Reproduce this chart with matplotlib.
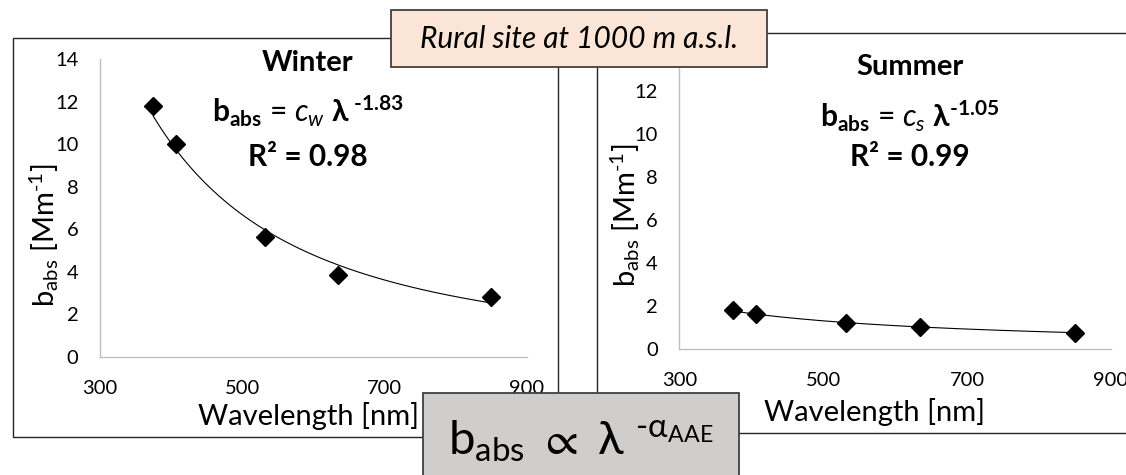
import numpy as np
import matplotlib
matplotlib.use("Agg")
import matplotlib.pyplot as plt
from matplotlib.patches import Rectangle

plt.rcParams['font.family'] = ['Lato', 'DejaVu Sans']
plt.rcParams['mathtext.fontset'] = 'custom'
plt.rcParams['mathtext.rm'] = 'Lato'
plt.rcParams['mathtext.it'] = 'Lato:italic'
plt.rcParams['mathtext.bf'] = 'Lato:bold'
plt.rcParams['mathtext.default'] = 'regular'
plt.rcParams['mathtext.fallback'] = 'stixsans'

# measured absorption coefficients per wavelength
wavelengths = [375, 407, 532, 635, 850]
winter_babs = [11.8, 10.0, 5.65, 3.85, 2.8]
summer_babs = [1.8, 1.6, 1.2, 1.0, 0.72]

winter_aae = 1.83
summer_aae = 1.05
winter_r2 = 0.98
summer_r2 = 0.99

x_ticks = [300, 500, 700, 900]
y_ticks = [0, 2, 4, 6, 8, 10, 12, 14]

W, H = 1126, 475
fig = plt.figure(figsize=(W / 100, H / 100), dpi=100)

HY = '\u2010'  # short hyphen, as in the original labels


def power_fit(x, y, aae):
    # constant of b = c * lambda^-aae, fitted in log space
    x = np.asarray(x, float)
    y = np.asarray(y, float)
    logc = np.mean(np.log(y) + aae * np.log(x))
    xs = np.linspace(x.min(), x.max(), 200)
    return xs, np.exp(logc) * xs ** (-aae)


def panel(rect, y, aae, r2, title, sub, tx, ylab_pos, xlab_pos, title_y, eq_y, r2_y,
          space, yt):
    ax = fig.add_axes(rect)
    ax.patch.set_alpha(0)
    xs, ys = power_fit(wavelengths, y, aae)
    ax.plot(xs, ys, color='black', lw=0.8, zorder=2)
    ax.plot(wavelengths, y, linestyle='none', marker='D', ms=9.2,
            color='black', zorder=3, clip_on=False)
    ax.set_xlim(300, 900)
    ax.set_ylim(0, 14)
    ax.set_xticks(x_ticks)
    ax.set_yticks(yt)
    for s in ['top', 'right']:
        ax.spines[s].set_visible(False)
    for s in ['left', 'bottom']:
        ax.spines[s].set_color('#bfbfbf')
        ax.spines[s].set_linewidth(1.0)
    ax.tick_params(axis='both', length=0, labelsize=14.5)
    ax.tick_params(axis='y', pad=15.5)
    ax.tick_params(axis='x', pad=17)
    ax.text(ylab_pos[0], ylab_pos[1], r'b$_{\mathrm{abs}}$ [Mm$^{%s1}$]' % HY, rotation=90,
            ha='center', va='center', fontsize=21, transform=ax.transAxes)
    ax.text(xlab_pos[0], xlab_pos[1], 'Wavelength [nm]',
            ha='center', va='center', fontsize=21, transform=ax.transAxes)
    ax.text(tx, title_y, title, ha='center', va='center', fontsize=21,
            fontweight='bold', transform=ax.transAxes)
    gap = r'\ ' if space else ''
    eq = (r'$\mathbf{b}_{\mathbf{abs}}$ = $\mathit{c}_{\mathit{%s}}$ '
          r'$\boldsymbol{\lambda}^{%s\mathbf{%s%.2f}}$' % (sub, gap, HY, aae))
    ax.text(tx, eq_y, eq, ha='center', va='center', fontsize=21.5,
            transform=ax.transAxes)
    ax.text(tx, r2_y, 'R² = %.2f' % r2, ha='center', va='center', fontsize=21.5,
            fontweight='bold', transform=ax.transAxes)
    return ax


panel([100 / W, 1 - 356.7 / H, 426.7 / W, 297.4 / H], winter_babs, winter_aae,
      winter_r2, 'Winter', 'w', 0.4875, (-0.131, 0.408), (0.4875, -0.2), 0.988,
      0.826, 0.673, True, y_ticks)
# the 14 label of the summer panel sits under the title box
panel([679.3 / W, 1 - 348.5 / H, 431.7 / W, 300.6 / H], summer_babs, summer_aae,
      summer_r2, 'Summer', 's', 0.5344, (-0.1246, 0.445), (0.4533, -0.21), 0.9375,
      0.774, 0.638, False, y_ticks[:-1])

# overlay in pixel coordinates for frames and boxes
ov = fig.add_axes([0, 0, 1, 1], zorder=5)
ov.set_xlim(0, W)
ov.set_ylim(H, 0)
ov.axis('off')
ov.patch.set_alpha(0)
ov.add_patch(Rectangle((12.7, 38.3), 545.6, 399, fill=False, ec='#262626', lw=1.0, zorder=1))
ov.add_patch(Rectangle((596.7, 33.3), 600, 400, fill=False, ec='#262626', lw=1.0, zorder=1))
ov.add_patch(Rectangle((390.7, 10), 376, 56.7, fc='#fbe5d6', ec='#404040', lw=1.3, zorder=3))
ov.text(578.7, 39, 'Rural site at 1000 m a.s.l.', ha='center', va='center',
        fontsize=21.5, style='italic', zorder=4)
ov.add_patch(Rectangle((423.3, 393.3), 316, 120, fc='#d0cecd', ec='#404040', lw=1.3, zorder=3))
ov.text(581, 455, r'$\mathrm{b}_{\mathrm{abs}}\ \propto\ \lambda\ ^{%s\alpha_{\mathrm{AAE}}}$' % HY,
        ha='center', va='baseline', fontsize=34, zorder=4)

fig.savefig('out.png', dpi=100)
